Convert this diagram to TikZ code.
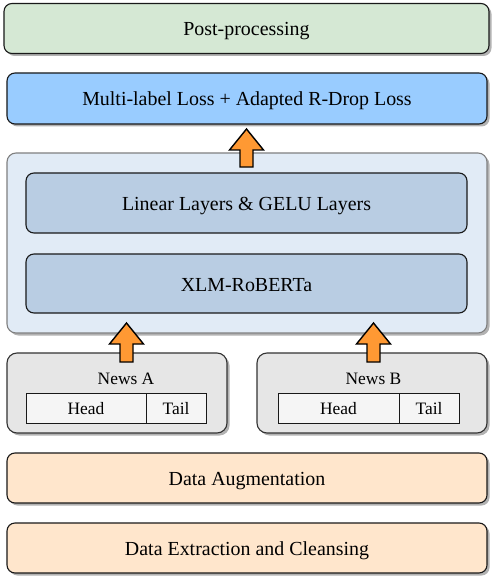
\documentclass[tikz,border=0pt]{standalone}
\usepackage{fontspec}
\setmainfont{Liberation Serif}
\usetikzlibrary{shadows}
\definecolor{postfill}{HTML}{D5E8D4}
\definecolor{lossfill}{HTML}{99CCFF}
\definecolor{contfill}{HTML}{E1EBF6}
\definecolor{layerfill}{HTML}{B9CDE3}
\definecolor{newsfill}{HTML}{E6E6E6}
\definecolor{partfill}{HTML}{F5F5F5}
\definecolor{datafill}{HTML}{FFE6CC}
\definecolor{arrowfill}{HTML}{FF9933}
\tikzset{
  shadowed/.style={drop shadow={shadow xshift=2.5bp, shadow yshift=-2.5bp, opacity=0.3, fill=black}},
  box/.style={draw=black!90, line width=1.1bp, rounded corners=8bp, inner sep=0pt, font=\fontsize{20}{24}\selectfont, text height=15bp, text depth=0pt},
  mainbox/.style={box, shadowed},
  container/.style={draw=black!50, line width=1.1bp, rounded corners=9bp, fill=contfill, shadowed, inner sep=0pt},
  layerbox/.style={box, fill=layerfill},
  newsbox/.style={draw=black!80, line width=1.1bp, rounded corners=10bp, fill=newsfill, shadowed, inner sep=0pt},
  partbox/.style={draw=black!90, line width=0.9bp, fill=partfill, inner sep=0pt, font=\fontsize{17.5}{21}\selectfont, text height=12bp, text depth=0pt},
  smalltext/.style={inner sep=0pt, font=\fontsize{17.5}{21}\selectfont, text height=12bp, text depth=0pt},
  blockarrow/.style={draw=black, line width=1.4bp, fill=arrowfill, line join=miter},
}
\newcommand\orangearrow[3]{%
  \draw[blockarrow] (#1,#2) -- (#1+17,#2+21) -- (#1+6.5,#2+21) -- (#1+6.5,#3)
    -- (#1-6.5,#3) -- (#1-6.5,#2+21) -- (#1-17,#2+21) -- cycle;}
\begin{document}
\begin{tikzpicture}[x=1bp,y=-1bp]
\useasboundingbox (0,0) rectangle (494,580);
% top boxes
\node[mainbox, fill=postfill, minimum width=485bp, minimum height=50bp] (post) at (246.5,28.5) {Post-processing};
\node[mainbox, fill=lossfill, minimum width=480bp, minimum height=51bp] (loss) at (247,98.5) {Multi-label Loss + Adapted R-Drop Loss};
% model container
\node[container, minimum width=480bp, minimum height=180bp] (model) at (247,243) {};
\node[layerbox, minimum width=441bp, minimum height=60bp] (linear) at (246.5,203) {Linear Layers \& GELU Layers};
\node[layerbox, minimum width=441bp, minimum height=59bp] (xlm) at (246.5,283.5) {XLM-RoBERTa};
% news boxes
\node[newsbox, minimum width=220bp, minimum height=80bp] (newsA) at (117,393) {};
\node[smalltext] (titleA) at (126,378) {News A};
\node[partbox, minimum width=120bp, minimum height=30bp] (headA) at (86,408) {Head};
\node[partbox, minimum width=60bp, minimum height=30bp] (tailA) at (176,408) {Tail};
\node[newsbox, minimum width=230bp, minimum height=80bp] (newsB) at (372,393) {};
\node[smalltext] (titleB) at (373.5,378) {News B};
\node[partbox, minimum width=121bp, minimum height=30bp] (headB) at (338.5,408) {Head};
\node[partbox, minimum width=60bp, minimum height=30bp] (tailB) at (429,408) {Tail};
% data boxes
\node[mainbox, fill=datafill, minimum width=480bp, minimum height=50bp] (aug) at (247,478) {Data Augmentation};
\node[mainbox, fill=datafill, minimum width=480bp, minimum height=50bp] (extr) at (247,548) {Data Extraction and Cleansing};
% block arrows
\orangearrow{246.5}{129}{167}
\orangearrow{126.5}{323}{362}
\orangearrow{373.5}{323}{362}
\end{tikzpicture}
\end{document}
